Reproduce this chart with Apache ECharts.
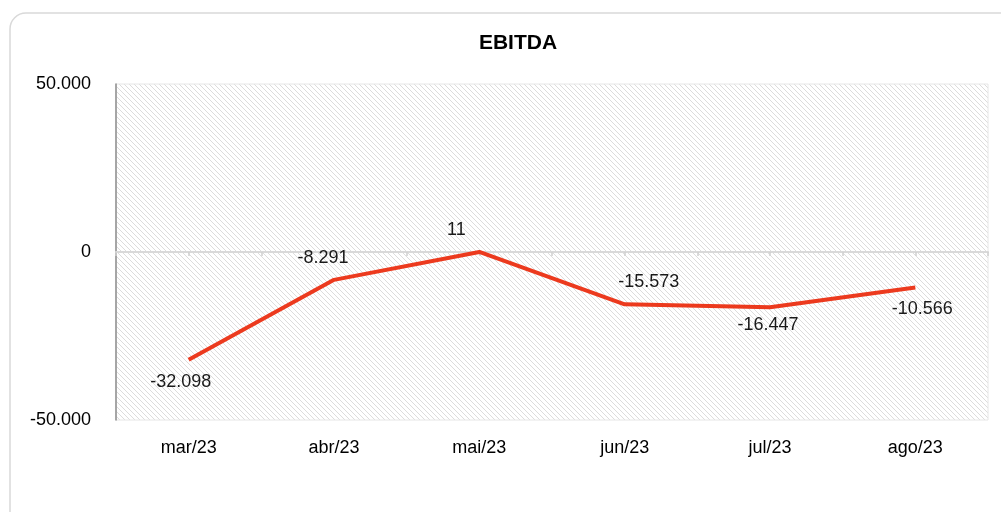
<!DOCTYPE html>
<html lang="pt">
  <head>
    <meta charset="UTF-8" />
    <script src="https://cdn.jsdelivr.net/npm/echarts@6/dist/echarts.min.js"></script>
    <title>EBITDA</title>
    <style>
      body { margin: 0; background: #fff; }
    </style>
  </head>
  <body>
    <div id="main" style="width: 1001px; height: 512px"></div>
    <script>
      var months = ["mar/23", "abr/23", "mai/23", "jun/23", "jul/23", "ago/23"];
      var ebitda = [-32098, -8291, 11, -15573, -16447, -10566];
      var yTicks = [-50000, 0, 50000];
      // half-month ticks along the zero line
      var halfSteps = ["", "", "", "", "", "", "", "", "", "", "", ""];

      // label placement per point, as in the original
      var labelPos = ["bottom", "top", "top", "top", "bottom", "bottom"];
      var labelOff = [[-8, 0], [-11, 0], [-23, 0], [24, 0], [-2, -4], [7, 0]];

      function fmt(v) {
        var s = String(Math.abs(v)).replace(/\B(?=(\d{3})+(?!\d))/g, ".");
        return (v < 0 ? "-" : "") + s;
      }

      // diagonal hatch pattern for plot background
      var hatch = document.createElement("canvas");
      hatch.width = 5;
      hatch.height = 5;
      var hc = hatch.getContext("2d");
      hc.fillStyle = "#ffffff";
      hc.fillRect(0, 0, 5, 5);
      hc.strokeStyle = "#dcdcdc";
      hc.lineWidth = 1;
      hc.beginPath();
      hc.moveTo(-1, -1);
      hc.lineTo(6, 6);
      hc.moveTo(-1, 4);
      hc.lineTo(1, 6);
      hc.moveTo(4, -1);
      hc.lineTo(6, 1);
      hc.stroke();

      var chart = echarts.init(document.getElementById("main"));
      var font = "'Liberation Sans', sans-serif";

      var option = {
        animation: false,
        textStyle: { fontFamily: font },
        title: {
          text: "EBITDA",
          left: 513,
          textAlign: "center",
          top: 28,
          textStyle: { fontFamily: font, fontSize: 21, fontWeight: "bold", color: "#000" },
        },
        graphic: [
          {
            type: "rect",
            shape: { x: 10, y: 13, width: 1020, height: 530, r: 16 },
            style: { fill: null, stroke: "#d9d9d9", lineWidth: 1.5 },
            silent: true,
            z: -10,
          },
        ],
        grid: {
          left: 116,
          right: 13,
          top: 84,
          bottom: 92,
          show: true,
          backgroundColor: { image: hatch, repeat: "repeat" },
          borderColor: "#e6e6e6",
          borderWidth: 1,
        },
        xAxis: [
          {
            type: "category",
            data: months,
            position: "bottom",
            boundaryGap: true,
            axisLine: { show: false, onZero: false },
            axisTick: { show: false },
            axisLabel: { margin: 19, fontSize: 18, color: "#000", fontFamily: font },
          },
          {
            type: "category",
            data: halfSteps,
            position: "bottom",
            boundaryGap: true,
            axisLine: { show: true, onZero: true, lineStyle: { color: "#d9d9d9", width: 2 } },
            axisTick: { show: true, length: 4, lineStyle: { color: "#d0d0d0", width: 1.5 } },
            axisLabel: { show: false },
            splitLine: { show: false },
          },
        ],
        yAxis: {
          type: "value",
          min: yTicks[0],
          max: yTicks[yTicks.length - 1],
          interval: 50000,
          axisLine: { show: true, lineStyle: { color: "#8c8c8c", width: 1.5 } },
          axisTick: { show: false },
          splitLine: { show: false },
          axisLabel: { margin: 25, fontSize: 18, color: "#000", fontFamily: font, formatter: fmt },
        },
        series: [
          {
            type: "line",
            xAxisIndex: 0,
            data: ebitda.map(function (v, i) {
              return {
                value: v,
                label: { position: labelPos[i], offset: labelOff[i] },
              };
            }),
            showSymbol: true,
            symbol: "circle",
            symbolSize: 2,
            itemStyle: { color: "rgba(236,58,30,0)" },
            lineStyle: { color: "#ec3a1e", width: 4 },
            label: {
              show: true,
              distance: 12,
              fontSize: 18,
              color: "#1a1a1a",
              fontFamily: font,
              formatter: function (p) { return fmt(p.value); },
            },
            z: 5,
          },
        ],
      };

      chart.setOption(option);
    </script>
  </body>
</html>
